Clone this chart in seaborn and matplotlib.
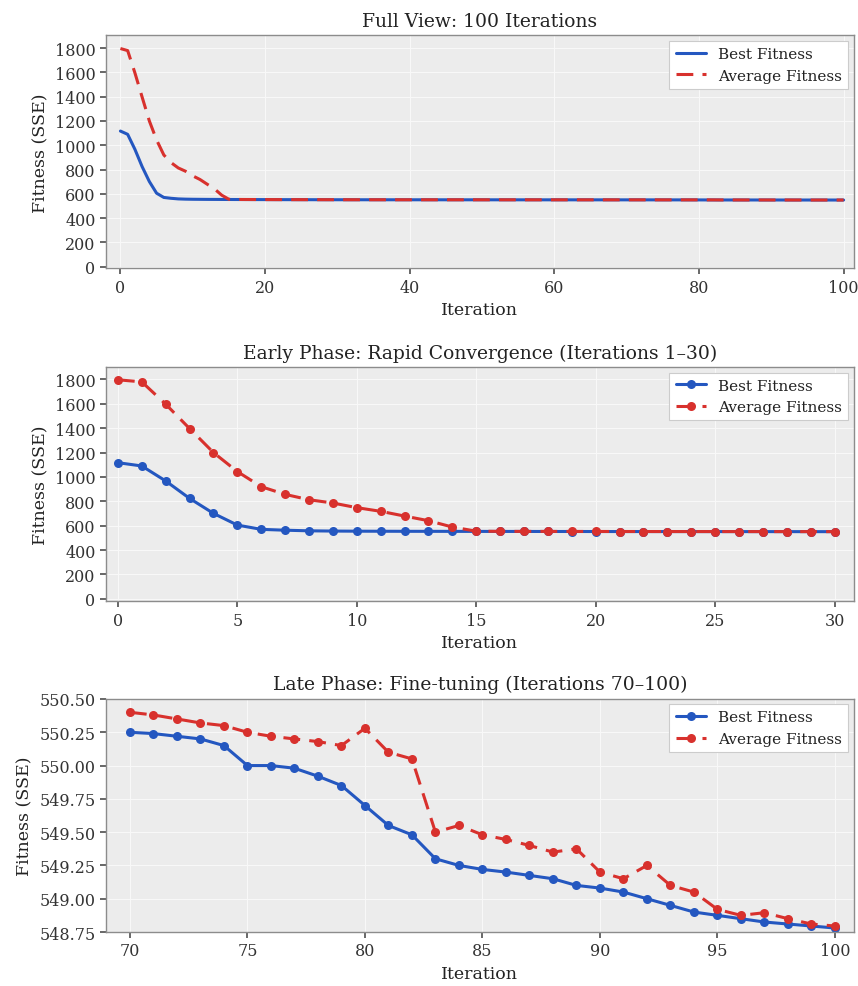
"""
GA convergence curves: full run, early phase, late phase
"""
import numpy as np
import pandas as pd
import matplotlib
matplotlib.use('Agg')
import matplotlib.pyplot as plt
import seaborn as sns

BLUE = '#2457c0'
RED = '#d8312d'

# ── data ──────────────────────────────────────────────────────────
iterations = list(range(101))

best_early = [1117, 1090, 967, 824, 701, 605, 570, 563, 558, 556, 555,
              554.5, 554, 553.8, 553.5, 553.2, 553.0, 552.8, 552.6, 552.4,
              552.2, 552.0, 551.9, 551.8, 551.7, 551.6, 551.5, 551.4, 551.3,
              551.2, 551.1]
best_mid = [551.05, 551.0, 550.98, 550.95, 550.93, 550.9, 550.88, 550.85,
            550.83, 550.8, 550.78, 550.76, 550.74, 550.72, 550.7, 550.68,
            550.66, 550.64, 550.62, 550.6, 550.58, 550.56, 550.54, 550.52,
            550.5, 550.48, 550.46, 550.44, 550.42, 550.4, 550.38, 550.36,
            550.35, 550.33, 550.32, 550.30, 550.29, 550.27, 550.26]
best_late = [550.25, 550.24, 550.22, 550.20, 550.15, 550.00, 550.00, 549.98,
             549.92, 549.85, 549.70, 549.55, 549.48, 549.30, 549.25, 549.22,
             549.20, 549.175, 549.15, 549.10, 549.08, 549.05, 549.00, 548.95,
             548.90, 548.875, 548.85, 548.825, 548.81, 548.795, 548.78]

avg_early = [1797, 1780, 1597, 1397, 1200, 1044, 920, 857, 813, 786, 748,
             718, 679, 641, 589, 555, 553.5, 553.2, 553.0, 552.8, 552.6,
             552.4, 552.2, 552.1, 552.0, 551.9, 551.8, 551.7, 551.6, 551.5,
             551.4]
avg_mid = [551.3, 551.25, 551.2, 551.15, 551.1, 551.08, 551.05, 551.0,
           550.98, 550.96, 550.94, 550.92, 550.9, 550.88, 550.86, 550.84,
           550.82, 550.8, 550.78, 550.76, 550.74, 550.72, 550.7, 550.68,
           550.66, 550.64, 550.62, 550.6, 550.58, 550.56, 550.55, 550.53,
           550.52, 550.5, 550.48, 550.47, 550.45, 550.44, 550.42]
avg_late = [550.40, 550.38, 550.35, 550.32, 550.30, 550.25, 550.22, 550.20,
            550.18, 550.15, 550.28, 550.10, 550.05, 549.50, 549.55, 549.48,
            549.445, 549.40, 549.35, 549.375, 549.20, 549.15, 549.25, 549.10,
            549.05, 548.92, 548.875, 548.895, 548.85, 548.81, 548.795]

best_fitness = best_early + best_mid + best_late
avg_fitness = avg_early + avg_mid + avg_late

df = pd.DataFrame({'iteration': iterations,
                   'best': best_fitness,
                   'avg': avg_fitness})


def _theme():
    sns.set_theme(style='darkgrid')
    plt.rcParams.update({
        'font.family': ['DejaVu Serif'],
        'axes.facecolor': '#ececec', 'axes.edgecolor': '#8c8c8c',
        'axes.linewidth': 1.0, 'grid.color': '#f8f8f8', 'grid.linewidth': 0.8,
        'xtick.bottom': True, 'ytick.left': True,
        'xtick.major.size': 4, 'ytick.major.size': 4,
        'xtick.color': '#555555', 'ytick.color': '#555555',
        'xtick.labelcolor': '#333333', 'ytick.labelcolor': '#333333',
        'axes.labelcolor': '#222222', 'text.color': '#222222',
        'xtick.labelsize': 11.5, 'ytick.labelsize': 11.5,
        'axes.labelsize': 12.5, 'axes.titlesize': 13.5,
        'legend.fontsize': 11,
    })


def _panel(ax, d, title, markers):
    mk = 'o' if markers else None
    sns.lineplot(data=d, x='iteration', y='best', ax=ax, color=BLUE,
                 linewidth=2.2, marker=mk, markersize=6.5, markeredgewidth=0,
                 label='Best Fitness')
    sns.lineplot(data=d, x='iteration', y='avg', ax=ax, color=RED,
                 linewidth=2.2, linestyle=(0, (5.5, 3)), marker=mk,
                 markersize=6.5, markeredgewidth=0, label='Average Fitness')
    ax.set_title(title, pad=7)
    ax.set_xlabel('Iteration')
    ax.set_ylabel('Fitness (SSE)')
    for s in ax.spines.values():
        s.set_visible(True)
    leg = ax.legend(loc='upper right', frameon=True, fancybox=False,
                    facecolor='white', edgecolor='#cccccc', framealpha=1,
                    borderaxespad=0.35)
    leg.get_frame().set_linewidth(0.8)


_theme()
fig = plt.figure(figsize=(8.58, 9.87), dpi=100)
ax1 = fig.add_axes([0.1235, 0.7270, 0.8715, 0.2361])
ax2 = fig.add_axes([0.1235, 0.3898, 0.8715, 0.2371])
ax3 = fig.add_axes([0.1235, 0.0547, 0.8715, 0.2361])

_panel(ax1, df, 'Full View: 100 Iterations', markers=False)
ax1.set_xlim(-2, 101.4)
ax1.set_ylim(-15, 1905)
ax1.set_yticks(range(0, 1801, 200))

_panel(ax2, df[df['iteration'] <= 30], 'Early Phase: Rapid Convergence (Iterations 1\u201330)', markers=True)
ax2.set_xlim(-0.5, 30.8)
ax2.set_ylim(-20, 1900)
ax2.set_yticks(range(0, 1801, 200))

_panel(ax3, df[df['iteration'] >= 70], 'Late Phase: Fine-tuning (Iterations 70\u2013100)', markers=True)
ax3.set_xlim(68.98, 100.8)
ax3.set_ylim(548.75, 550.5)
ax3.set_yticks(np.arange(548.75, 550.51, 0.25))
ax3.yaxis.set_major_formatter(matplotlib.ticker.FormatStrFormatter('%.2f'))

plt.savefig('out.png', dpi=100, facecolor='white')
plt.close()
